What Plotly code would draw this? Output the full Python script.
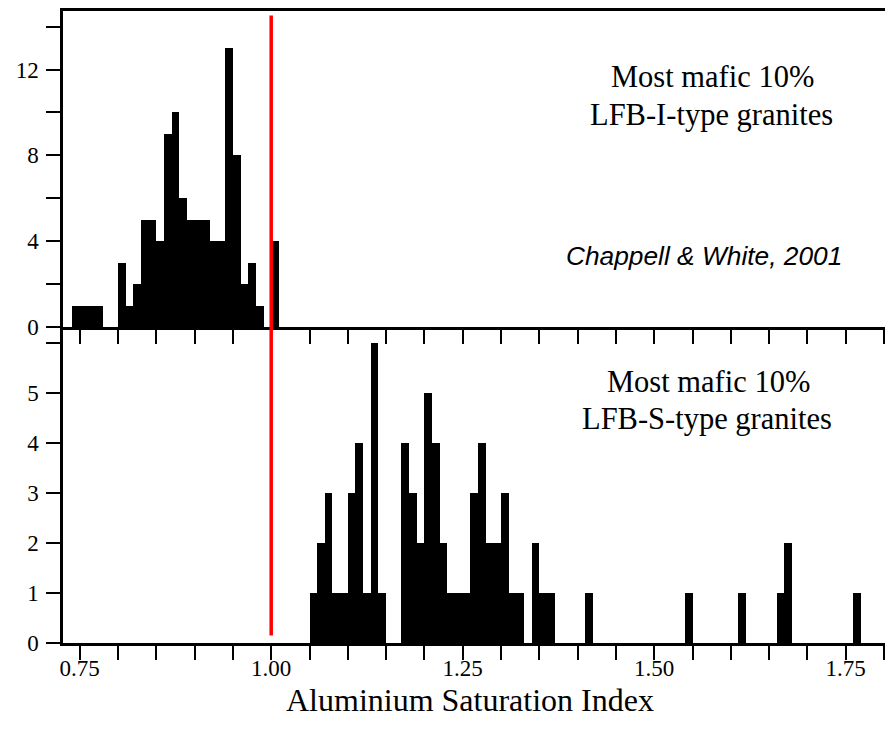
import plotly.graph_objects as go
from plotly.subplots import make_subplots

# bin width of both histograms (Aluminium Saturation Index units)
bin_width = 0.01

# Most mafic 10% LFB I-type granites: lower bin edge and count
i_bins = [0.74, 0.75, 0.76, 0.77, 0.78, 0.79, 0.80, 0.81, 0.82, 0.83, 0.84,
          0.85, 0.86, 0.87, 0.88, 0.89, 0.90, 0.91, 0.92, 0.93, 0.94, 0.95,
          0.96, 0.97, 0.98, 0.99, 1.00]
i_counts = [1, 1, 1, 1, 0, 0, 3, 1, 2, 5, 5,
            4, 9, 10, 6, 5, 5, 5, 4, 4, 13, 8,
            2, 3, 1, 0, 4]

# Most mafic 10% LFB S-type granites
s_bins = [1.05, 1.06, 1.07, 1.08, 1.09, 1.10, 1.11, 1.12, 1.13, 1.14,
          1.17, 1.18, 1.19, 1.20, 1.21, 1.22, 1.23, 1.24, 1.25, 1.26,
          1.27, 1.28, 1.29, 1.30, 1.31, 1.32, 1.34, 1.35, 1.36, 1.41,
          1.54, 1.61, 1.66, 1.67, 1.76]
s_counts = [1, 2, 3, 1, 1, 3, 4, 1, 6, 1,
            4, 3, 2, 5, 4, 2, 1, 1, 1, 3,
            4, 2, 2, 3, 1, 1, 2, 1, 1, 1,
            1, 1, 1, 2, 1]

# metaluminous / peraluminous boundary
reference_asi = 1.00

# axis ranges and ticks
x_range = [0.7282, 1.8013]
i_range = [0, 14.73]
s_range = [0, 6.32]
s_tickvals = [0, 1, 2, 3, 4, 5, 6]
s_ticktext = ["0", "1", "2", "3", "4", "5", ""]

serif = "Liberation Serif, Times New Roman, serif"
sans = "Liberation Sans, Arial, sans-serif"

fig = make_subplots(rows=2, cols=1, shared_xaxes=True, vertical_spacing=0)

fig.add_trace(go.Bar(x=i_bins, y=i_counts, width=bin_width, offset=0,
                     marker=dict(color="black", line=dict(width=0))),
              row=1, col=1)
fig.add_trace(go.Bar(x=s_bins, y=s_counts, width=bin_width, offset=0,
                     marker=dict(color="black", line=dict(width=0))),
              row=2, col=1)

# red reference line across both panels
fig.add_shape(type="line", xref="x2", yref="paper",
              x0=reference_asi, x1=reference_asi, y0=0.012, y1=0.993,
              line=dict(color="#ff0000", width=3.5))

axis_common = dict(showline=True, linecolor="black", linewidth=2.5,
                   showgrid=False, zeroline=False, ticks="outside",
                   ticklen=14, tickwidth=2, tickcolor="black",
                   tickfont=dict(family=serif, size=23, color="black"))

fig.update_xaxes(range=x_range, tick0=0.75, dtick=0.25, tickformat=".2f",
                 minor=dict(ticks="outside", dtick=0.05, ticklen=14,
                            tickwidth=2, tickcolor="black"),
                 ticklabelstandoff=-11, **axis_common)
# top panel draws the frame top and the divider; bottom panel only its base
fig.update_xaxes(mirror=True, row=1, col=1)
fig.update_xaxes(mirror=False, row=2, col=1)

# right edge of the frame is cut off in the original, so no mirrored y line
fig.update_yaxes(range=i_range, tick0=0, dtick=4,
                 minor=dict(ticks="outside", dtick=2, ticklen=14,
                            tickwidth=2, tickcolor="black"),
                 ticklabelstandoff=3, row=1, col=1, **axis_common)
fig.update_yaxes(range=s_range, tickvals=s_tickvals, ticktext=s_ticktext,
                 ticklabelstandoff=3, row=2, col=1, **axis_common)

text_font = dict(family=serif, size=30.5, color="black")
notes = [
    ("Most mafic 10%", 0.790, 0.895, text_font),
    ("LFB-I-type granites", 0.789, 0.835, text_font),
    ("<i>Chappell & White, 2001</i>", 0.780, 0.613,
     dict(family=sans, size=26.3, color="black")),
    ("Most mafic 10%", 0.785, 0.413, text_font),
    ("LFB-S-type granites", 0.784, 0.355, text_font),
    ("Aluminium Saturation Index", 0.495, -0.090,
     dict(family=serif, size=32, color="black")),
]
for text, x, y, font in notes:
    fig.add_annotation(text=text, x=x, y=y, xref="paper", yref="paper",
                       xanchor="center", yanchor="middle", showarrow=False,
                       font=font)

fig.update_layout(
    width=885, height=738,
    margin=dict(l=63, r=0, t=11, b=95),
    plot_bgcolor="white", paper_bgcolor="white",
    showlegend=False, bargap=0,
)

fig.write_html("out.html", config={"displayModeBar": False},
               post_script="document.body.style.margin='0';")
